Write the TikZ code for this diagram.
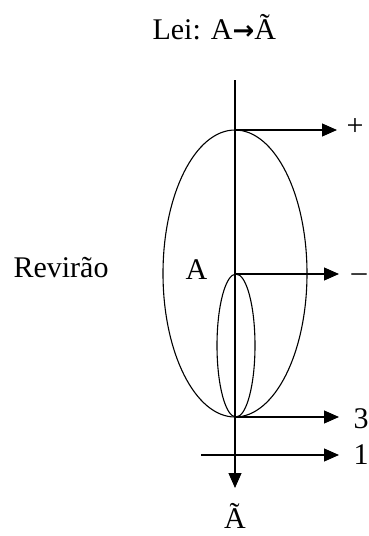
\documentclass[tikz,border=0pt]{standalone}
\usepackage{fontspec}
\setmainfont{Liberation Serif}
\newfontfamily\arrowfont{DejaVu Sans}
\usetikzlibrary{arrows.meta}
\begin{document}
\begin{tikzpicture}[x=1pt,y=-1pt,line width=1.1pt,
  arr/.style={-{Triangle[length=15pt,width=13pt]}},
  lbl/.style={font=\fontsize{30}{33}\selectfont,inner sep=0pt}]
\useasboundingbox (0,0) rectangle (369,536);
\coordinate (top) at (235,80);
\coordinate (P) at (235,130);
\coordinate (M) at (235,274);
\coordinate (B) at (235,417);
\coordinate (bot) at (235,488);
\coordinate (L1) at (201,455);
\draw (235,273.5) ellipse [x radius=72, y radius=143.5];
\draw (236,345.5) ellipse [x radius=19, y radius=71.5];
\draw[arr] (top) -- (bot);
\coordinate (Pe) at (337,130);
\coordinate (Me) at (339,274);
\coordinate (Be) at (339,417);
\coordinate (L1e) at (339,455);
\draw[arr] (P) -- (Pe);
\draw[arr] (M) -- (Me);
\draw[arr] (B) -- (Be);
\draw[arr] (L1) -- (L1e);
\node[lbl,anchor=base west] (plus) at (346,135) {+};
\node[lbl,anchor=base west] (minus) at (351,281) {–};
\node[lbl,anchor=base west] (three) at (353,428) {3};
\node[lbl,anchor=base west] (one) at (353,464) {1};
\node[lbl,anchor=base] (at) at (235,528) {Ã};
\node[lbl,anchor=base west] (title) at (152,39) {Lei: A{\arrowfont\bfseries\fontsize{26}{30}\selectfont→}Ã};
\node[lbl,anchor=base west] (rev) at (13,277) {Revirão};
\node[lbl,anchor=base west] (a) at (185,279) {A};
\end{tikzpicture}
\end{document}
